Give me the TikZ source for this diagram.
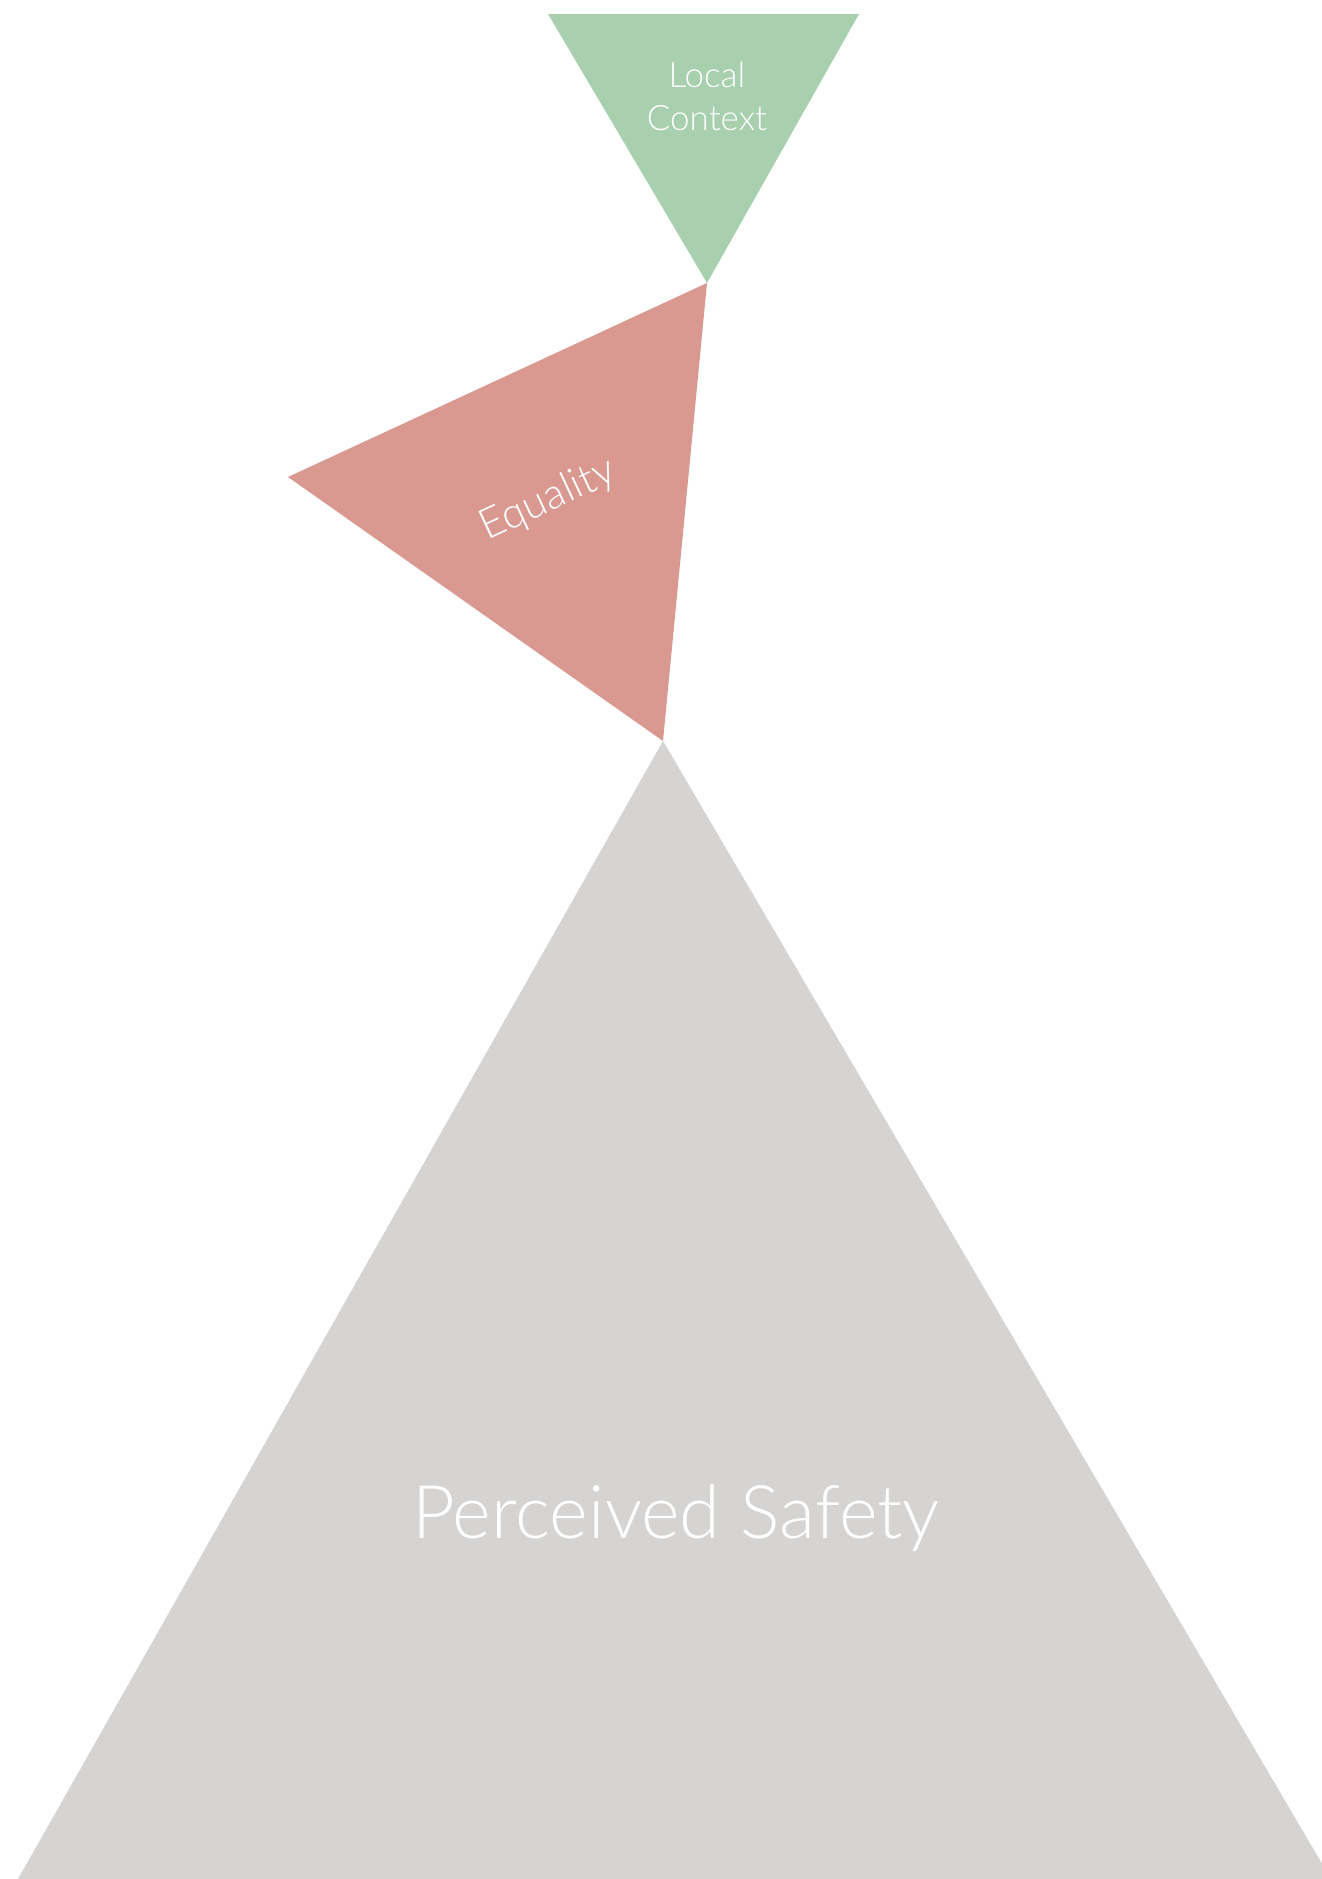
\documentclass[tikz,border=0pt]{standalone}
\usepackage{fontspec}
\setmainfont{Lato}[UprightFont=* Light]
\usetikzlibrary{calc}

\definecolor{ctxgreen}{HTML}{A8CFAE}
\definecolor{eqred}{HTML}{D99890}
\definecolor{safegray}{HTML}{D5D4D2}

\begin{document}
\begin{tikzpicture}[x=1pt,y=-1pt,
    tritext/.style={text=white,inner sep=0pt,align=center}]
        % --- 1. Canvas ---
        \useasboundingbox (0,0) rectangle (1322,1879);
        \clip (0,0) rectangle (1322,1879);

        % --- 2. Define Coordinates ---
        \coordinate (CtxL) at (548,14);
        \coordinate (CtxR) at (859,14);
        \coordinate (Tip1) at (707,283);
        \coordinate (EqL) at (288,477);
        \coordinate (Tip2) at (663,741);
        \coordinate (SafeL) at (18,1879);
        \coordinate (SafeR) at (1331,1879);

        % --- 3. Draw the Triangles ---
        \fill[ctxgreen] (CtxL) -- (CtxR) -- (Tip1) -- cycle;
        \fill[eqred] (Tip1) -- (EqL) -- (Tip2) -- cycle;
        \fill[safegray] (Tip2) -- (SafeL) -- (SafeR) -- cycle;

        % --- 4. Labels ---
        \node[tritext,font=\fontsize{35}{43}\selectfont] (ctx) at (707,96) {Local\\Context};
        \node[tritext,font=\fontsize{42}{50}\selectfont,rotate=25] (eq) at (548,500) {Equality};
        \node[tritext,font=\fontsize{74}{88}\selectfont,anchor=base] (safe) at (676,1538) {Perceived Safety};

    \end{tikzpicture}
\end{document}
